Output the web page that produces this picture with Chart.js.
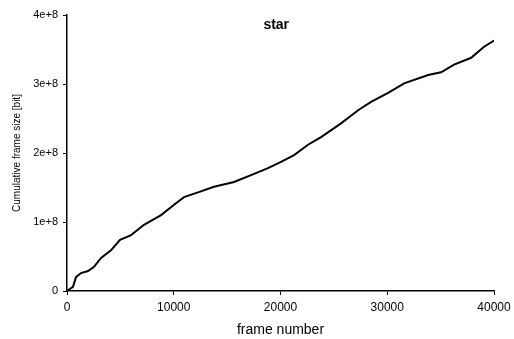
<!DOCTYPE html>
<html>
<head>
<meta charset="utf-8">
<script src="https://cdn.jsdelivr.net/npm/chart.js@4"></script>
<style>
  html, body { margin: 0; padding: 0; background: #fff; }
  #wrap { width: 514px; height: 339px; }
</style>
</head>
<body>
<div id="wrap"><canvas id="grafico"></canvas></div>
<script>
// -------- DADOS --------
const titulo = "star";
const frames = [0, 560, 840, 1310, 1970, 2530, 3190, 4120, 4970, 6000, 7210, 8810,
  10030, 10960, 12270, 13770, 15650, 17240, 18830, 20050, 21270, 22580, 23800,
  25670, 27270, 28480, 30080, 31580, 33830, 35040, 36260, 37860, 39070, 40000];
const tamanhoAcum = [0, 0.06e8, 0.20e8, 0.26e8, 0.29e8, 0.35e8, 0.48e8, 0.59e8, 0.74e8,
  0.81e8, 0.96e8, 1.10e8, 1.25e8, 1.36e8, 1.43e8, 1.51e8, 1.58e8, 1.68e8, 1.78e8,
  1.87e8, 1.97e8, 2.12e8, 2.23e8, 2.43e8, 2.62e8, 2.74e8, 2.87e8, 3.01e8, 3.13e8,
  3.17e8, 3.28e8, 3.38e8, 3.54e8, 3.63e8];
const yTicks = [0, 1e8, 2e8, 3e8, 4e8];
const yLabels = ["0", "1e+8", "2e+8", "3e+8", "4e+8"];
const xTicks = [0, 10000, 20000, 30000, 40000];

const FONTE = "'Liberation Sans', Arial, sans-serif";

// titulo desenhado dentro da area do grafico
const tituloPlugin = {
  id: "tituloDentro",
  afterDraw(chart) {
    const c = chart.ctx;
    const a = chart.chartArea;
    c.save();
    c.fillStyle = "#000";
    c.font = "bold 14px " + FONTE;
    c.textAlign = "center";
    c.textBaseline = "middle";
    c.fillText(titulo, a.left + (a.right - a.left) * 0.49, a.top + 10);
    c.restore();
  }
};

const ctx = document.getElementById("grafico").getContext("2d");
new Chart(ctx, {
  type: "line",
  data: {
    datasets: [{
      data: frames.map((f, i) => ({ x: f, y: tamanhoAcum[i] })),
      borderColor: "#000",
      borderWidth: 2,
      pointRadius: 0,
      tension: 0
    }]
  },
  options: {
    responsive: true,
    maintainAspectRatio: false,
    animation: false,
    layout: { padding: { left: 11, right: 20, top: 15, bottom: 0 } },
    plugins: { legend: { display: false }, tooltip: { enabled: false } },
    scales: {
      x: {
        type: "linear",
        min: 0,
        max: 40000,
        afterBuildTicks: (s) => { s.ticks = xTicks.map((v) => ({ value: v })); },
        afterFit: (s) => { s.height = 48; s.paddingRight = 0; },
        grid: { drawOnChartArea: false, drawTicks: true, tickLength: 4, color: "#000" },
        border: { display: true, color: "#000", width: 1.5 },
        ticks: {
          color: "#000",
          font: { size: 12, family: FONTE },
          maxRotation: 0,
          padding: 5,
          callback: (v) => String(v)
        },
        title: {
          display: true,
          text: "frame number",
          color: "#000",
          font: { size: 14, family: FONTE },
          padding: { top: 2, bottom: 0 }
        }
      },
      y: {
        min: 0,
        max: 4e8,
        afterBuildTicks: (s) => { s.ticks = yTicks.map((v) => ({ value: v })); },
        afterFit: (s) => { s.width = 56; },
        grid: { drawOnChartArea: false, drawTicks: true, tickLength: 4, color: "#000" },
        border: { display: true, color: "#000", width: 1.5 },
        ticks: {
          color: "#000",
          font: { size: 11, family: FONTE },
          padding: 5,
          callback: (v) => yLabels[yTicks.indexOf(v)]
        },
        title: {
          display: true,
          text: "Cumulative frame size [bit]",
          color: "#000",
          font: { size: 10, family: FONTE },
          padding: { top: 0, bottom: 4 }
        }
      }
    }
  },
  plugins: [tituloPlugin]
});
</script>
</body>
</html>
